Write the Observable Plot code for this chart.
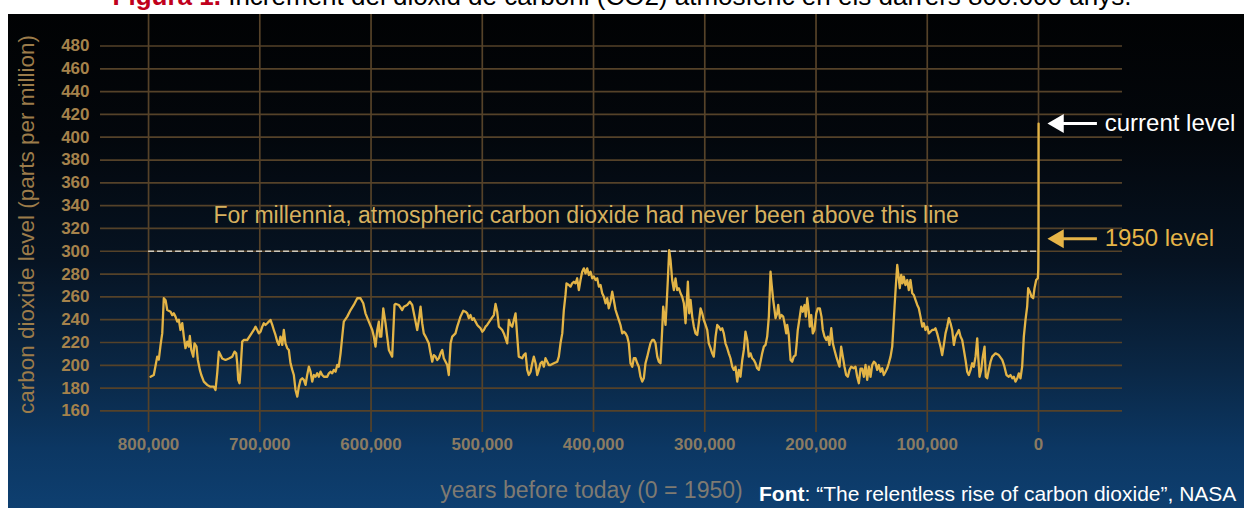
<!DOCTYPE html>
<html>
<head>
<meta charset="utf-8">
<script src="https://cdn.jsdelivr.net/npm/d3@7"></script>
<script src="https://cdn.jsdelivr.net/npm/@observablehq/plot@0.6"></script>
<style>
  html, body { margin: 0; padding: 0; background: #ffffff; width: 1244px; height: 508px; overflow: hidden;
    font-family: "Liberation Sans", Arial, Helvetica, sans-serif; }
  #title { position: absolute; left: 0; top: -17px; width: 1244px; text-align: center; font-size: 26px;
    line-height: 26px; color: #000; white-space: nowrap; }
  #title b { color: #c0001c; }
  #panel { position: absolute; left: 8px; top: 14px; width: 1236px; height: 494px; overflow: hidden;
    background: linear-gradient(180deg, #010203 0%, #03070c 25%, #061322 50%, #0a2745 72%, #0c3763 88%, #0e3f70 100%); }
  #panel svg { display: block; }
  #caption { position: absolute; left: 759px; top: 483px; color: #ffffff; font-size: 21px; line-height: 21px; white-space: nowrap; }
</style>
</head>
<body>
<div id="title"><b>Figura 1.</b> Increment del diòxid de carboni (CO2) atmosfèric en els darrers 800.000 anys.</div>
<div id="panel"></div>
<div id="caption"><b>Font</b>: “The relentless rise of carbon dioxide”, NASA</div>
<script>
// thousands of years before 1950
const years = [
  798.2,795.3,792.2,790.8,789.2,787.7,786.3,784.7,783.2,780.2,
  778.7,777.3,775.8,774.2,772.8,771.3,769.7,768.3,766.8,765.2,
  763.8,762.9,761.6,759.8,758.7,756.9,755.7,753.9,752.6,750.3,
  747.3,744.3,741.3,739.8,738.3,736.8,735.3,733.8,730.8,727.8,
  724.8,722.7,721.2,720.3,719.4,718.2,717.3,715.8,714.4,711.3,
  708.3,705.4,703.8,702.3,700.9,699.3,697.8,696.4,694.9,693.3,
  691.9,690.4,688.8,687.4,685.9,684.3,682.9,681.4,679.8,678.4,
  676.9,675.3,673.9,672.4,670.8,669.4,667.9,666.3,664.9,663.4,
  661.8,660.4,658.9,657.4,655.9,654.4,652.9,651.4,649.9,648.4,
  646.9,645.4,643.9,642.4,639.4,637.9,636.4,634.9,633.5,631.9,
  630.4,629.0,627.4,625.9,624.5,621.4,618.4,615.5,612.4,609.5,
  607.0,605.0,602.0,598.9,597.5,596.0,594.4,593.0,592.1,590.8,
  589.0,587.0,585.5,584.0,581.0,578.9,578.0,575.0,572.0,570.5,
  567.5,565.1,563.0,561.5,560.0,558.5,557.0,555.5,554.0,552.6,
  551.0,549.5,548.1,546.5,545.0,543.6,542.0,540.5,539.1,537.5,
  536.0,534.6,533.0,531.5,530.1,528.5,527.0,524.1,522.5,519.6,
  517.1,515.1,513.5,512.1,510.6,509.0,507.6,506.1,504.5,503.1,
  501.6,500.0,498.6,497.1,495.6,492.6,489.6,488.1,486.6,485.1,
  483.6,482.1,480.6,479.1,477.6,476.1,474.6,473.1,471.6,470.1,
  468.6,467.2,464.1,462.7,461.1,459.6,458.2,456.6,455.1,453.7,
  452.1,450.6,449.2,447.7,446.1,444.7,443.2,441.6,440.2,438.7,
  435.7,432.6,431.2,429.7,428.1,426.7,425.2,424.3,422.2,420.7,
  419.2,417.7,416.2,414.7,413.2,411.7,410.2,408.7,407.2,405.7,
  404.2,402.7,401.2,399.7,398.2,396.7,395.2,393.7,392.2,390.7,
  389.2,387.7,386.3,384.7,383.2,381.8,380.2,378.7,377.3,375.7,
  374.2,372.8,371.2,369.7,368.3,366.8,365.2,363.8,362.3,360.7,
  359.3,357.8,356.2,354.8,353.3,351.7,350.3,348.8,347.2,345.8,
  344.3,342.7,341.3,339.8,338.3,337.4,336.2,335.3,334.4,333.2,
  332.0,330.8,329.3,327.8,326.3,324.8,323.3,321.8,320.3,318.8,
  317.3,316.4,315.2,314.0,312.8,311.3,309.8,308.3,306.8,305.4,
  303.8,302.3,300.9,299.3,297.8,296.4,294.8,293.3,291.9,290.3,
  288.8,287.4,285.8,284.3,282.9,281.4,279.8,278.4,276.9,275.3,
  273.9,272.4,270.8,269.4,267.9,266.3,264.9,263.4,261.8,260.4,
  258.9,257.4,255.9,254.4,252.9,251.4,249.9,248.4,246.9,245.4,
  243.9,242.4,240.9,240.0,238.5,237.3,236.4,234.9,234.0,232.5,
  231.0,229.5,228.3,226.8,225.9,224.5,222.9,221.4,220.0,218.4,
  217.5,216.4,214.8,213.3,211.9,210.3,209.2,207.9,206.5,205.6,
  204.3,202.9,201.4,199.8,198.4,196.6,195.1,193.9,192.4,190.8,
  189.4,187.9,186.3,184.9,183.4,181.8,180.4,178.9,177.4,175.9,
  174.4,172.9,171.4,169.9,168.4,166.0,164.5,163.0,161.5,160.0,
  158.5,157.0,155.5,154.0,152.5,151.0,149.5,148.0,146.5,145.0,
  143.6,142.0,140.5,139.1,137.5,136.0,134.6,133.0,131.5,130.6,
  129.4,128.3,127.0,125.8,124.7,123.4,122.3,121.1,119.6,118.0,
  116.6,115.1,113.5,112.1,110.6,109.0,107.6,106.1,104.5,103.1,
  101.6,100.0,98.6,97.1,95.6,94.1,92.6,91.1,89.6,88.1,
  86.6,85.1,83.6,82.1,80.6,79.1,77.6,76.1,74.6,73.1,
  71.6,70.1,68.6,67.1,65.6,64.1,62.7,61.1,59.6,58.2,
  56.6,55.1,54.2,53.0,51.5,50.1,48.5,47.4,46.1,44.7,
  43.1,41.6,38.7,35.7,32.6,30.6,28.8,26.7,25.2,23.6,
  22.2,20.7,19.1,17.7,16.2,14.7,13.2,11.7,10.2,9.3,
  7.8,6.3,4.8,3.6,2.1,0.6,0.2,0.0,-0.07
];
// carbon dioxide, parts per million
const co2 = [
  190,191.5,207.6,205,218,228,258.8,257,248.5,247,
  244,245.6,242.7,238.3,240,231,237,225.2,215,220.8,
  216.4,225.7,213.5,207.6,219.3,216.4,204.7,196,191.5,185.7,
  182.8,181.3,181.3,178.4,193,212,209,206,204.7,206,
  207.6,212,210.5,201.8,187.2,184.3,196,220.8,222.2,222.2,
  226.6,231,233.9,231,228,229.5,233.9,236.9,235.4,236.9,
  238.3,239.8,235.4,231,226.6,220.8,217.9,225.2,217.9,231,
  219.3,215,213.5,201.8,196,191.5,178.4,172.5,181.3,187.2,
  188.6,187.2,182.8,191.5,198.8,194.4,185.7,191.5,190,193,
  190,194.4,191.5,190,190,193,194.4,193,196,194.4,
  200.3,198.8,210.5,225.2,238.3,242.7,248.5,252.9,258.8,258.8,
  254.4,245.6,238.3,231,225.2,216.4,231,238.3,225.2,225.2,
  250,237,225.2,213.5,207.6,253,253.8,252.9,248.5,251.4,
  252.9,255.8,252.9,245.6,238.3,231,239.8,251.4,236.9,228,
  225.2,222.2,219.3,210.5,203.2,209,207.6,204.7,206.2,210.5,
  213.5,206.2,203.2,200.3,191.5,219.3,225.2,228,233.9,242.7,
  247.9,247,245.6,241.3,244.1,239.8,241.3,238.3,235.4,233.9,
  232.5,229.5,231,233.9,235.4,239.8,244.1,253.8,247,233.9,
  232.5,231,228,223.7,219.3,239.8,235.4,233.9,239.8,245.6,
  225.2,207.6,206.2,209,210.5,196,191.5,194.4,201.8,207.6,
  201.8,191.5,196,201.8,203.2,198.8,206.2,203.2,200.3,200.3,
  201.8,203.2,207.6,219.3,228,248.5,261.7,271.9,270.4,269,
  271.9,273.3,271.9,276.3,266,274.8,282.1,285,280.6,285,
  279.2,282.1,276.3,277.8,274.8,276.3,269,270.4,263.2,260.2,
  254.4,258.8,250,255.8,264.6,257.3,248.5,244.1,239.8,235,
  228,229.5,228,225.2,219.3,201.8,198.8,206.2,206.2,201.8,
  198.8,190,185.7,188.6,201.8,207.6,213.5,219.3,222.2,222.2,
  219.3,207.6,203.2,201.8,231,251.4,242.7,235.4,251.4,274.8,
  301,292.4,274.8,266,276.3,266,267.6,263.2,260.2,254.4,
  236.9,251.4,273.3,245.6,257.3,242.7,233.9,228,226.6,236.9,
  250,245.6,239.8,235.4,231,219.3,215,210.5,207.6,225.2,
  235.4,233.9,231,232.5,228,219.3,215,210.5,206.2,198.8,
  196,198.8,185.7,196,190,204.7,213.5,229.5,222.2,207.6,
  210.5,206.2,204.7,201.8,197.4,196,203.2,210.5,216.4,217.9,
  225.2,242.7,282.1,271.9,257.3,248.5,241.3,245.6,252.9,241.3,
  244.1,242.7,236.9,228,235.4,226.6,204.7,203.2,207.6,209,
  217.9,231,241.3,251.4,247,252.9,242.7,258.8,247,233.9,
  244.1,228,231,245.6,250,250,242.7,231,225.2,222.2,
  225.2,217.9,232.5,219.3,213.5,207.6,203.2,198.8,216.4,207.6,
  198.8,191.5,190,196,198.8,197.4,198.8,190,184.3,197,
  197,190,200.3,187.2,198.8,190,200.3,203.2,201.8,196,
  200.3,194.4,197.4,191.5,194.4,197.4,201.8,207.6,216.4,231,
  251.4,269,288,277.8,267.6,279.2,271.9,277.8,270.4,274.8,
  266,274.8,263.2,261.7,257.3,252.9,250,242.7,233.9,236.9,
  231,233.9,228,229.5,231,231,232.5,228,222.2,216.4,
  209,217.9,228,233.9,241.3,236.9,231,217.9,225.2,228,
  231,225.2,222.2,213.5,204.7,194.4,191.5,196,201.8,198.8,
  207.6,223.7,207.6,190,196,207.6,216.4,190,188.6,196,
  203.2,207.6,210.5,209,204.7,198.8,191.5,190,191.5,188.6,
  190,185.7,188.6,193,188.6,198.8,225.2,239.8,251.4,267.6,
  264.6,260.2,258.8,267.6,274.8,276.3,284,311,412
];
const yTicks = [160,180,200,220,240,260,280,300,320,340,360,380,400,420,440,460,480];
const xTicks = [800,700,600,500,400,300,200,100,0];
const threshold = 300;
const currentLevel = 412;
const level1950 = 311;
const callouts = [
  {label: "current level", value: currentLevel, color: "#ffffff"},
  {label: "1950 level", value: level1950, color: "#e6b548"}
];
const note = [{text: "For millennia, atmospheric carbon dioxide had never been above this line", year: 741.6, ppm: 331}];
const yTitle = "carbon dioxide level (parts per million)";
const xTitle = "years before today (0 = 1950)";

const n = Math.min(years.length, co2.length);
const data = d3.range(n).map(i => ({year: years[i], co2: co2[i]}));

const grid = "#554229";
const arrowTail = -52.5, arrowHeadAt = -17.8, labelAt = -59.5;

const chart = Plot.plot({
  width: 1236, height: 494,
  marginLeft: 92, marginRight: 122, marginTop: 0, marginBottom: 76,
  style: {background: "transparent", overflow: "visible", fontFamily: "'Liberation Sans', Arial, Helvetica, sans-serif"},
  x: {domain: [843.2, -75.5], axis: null},
  y: {domain: [141.1, 507.6], axis: null},
  color: {type: "identity"},
  marks: [
    Plot.ruleY(yTicks, {stroke: grid, strokeWidth: 1.7}),
    Plot.ruleX(xTicks, {stroke: grid, strokeWidth: 1.7}),
    Plot.ruleY([threshold], {x1: xTicks[0], x2: xTicks[xTicks.length - 1], stroke: "#cfc9bc", strokeWidth: 1.5, strokeDasharray: "6,3"}),
    Plot.line(data, {x: "year", y: "co2", stroke: "#e3b446", strokeWidth: 2.3, strokeLinejoin: "round"}),
    Plot.text(yTicks, {y: d => d, text: d => String(d), frameAnchor: "left", textAnchor: "end", dx: -11,
      fontSize: 17, fontWeight: "bold", fill: "#a5824b"}),
    Plot.text(xTicks, {x: d => d, text: d => d3.format(",")(d * 1000), frameAnchor: "bottom", lineAnchor: "middle", dy: 12.5,
      fontSize: 17, fontWeight: "bold", fill: "#8a7b62"}),
    Plot.text([yTitle], {frameAnchor: "left", textAnchor: "middle", lineAnchor: "middle", rotate: -90, dx: -74, dy: 1,
      fontSize: 22.5, fill: "#9c7c4a"}),
    Plot.text([xTitle], {frameAnchor: "bottom", lineAnchor: "middle", dx: -20, dy: 58, fontSize: 23, fill: "#7e7a72"}),
    Plot.text(note, {x: "year", y: "ppm", text: "text", textAnchor: "start", lineAnchor: "middle", fontSize: 23, fill: "#d7b15f"}),
    Plot.link(callouts, {x1: () => arrowTail, x2: () => arrowHeadAt, y1: "value", y2: "value", stroke: "color", strokeWidth: 3}),
    Plot.dot(callouts, {x: () => arrowHeadAt, y: "value", symbol: "triangle", r: 7, rotate: -90, fill: "color", stroke: null}),
    Plot.text(callouts, {x: () => labelAt, y: "value", text: "label", fill: "color", textAnchor: "start", lineAnchor: "middle", fontSize: 24})
  ]
});
document.getElementById("panel").append(chart);
</script>
</body>
</html>
